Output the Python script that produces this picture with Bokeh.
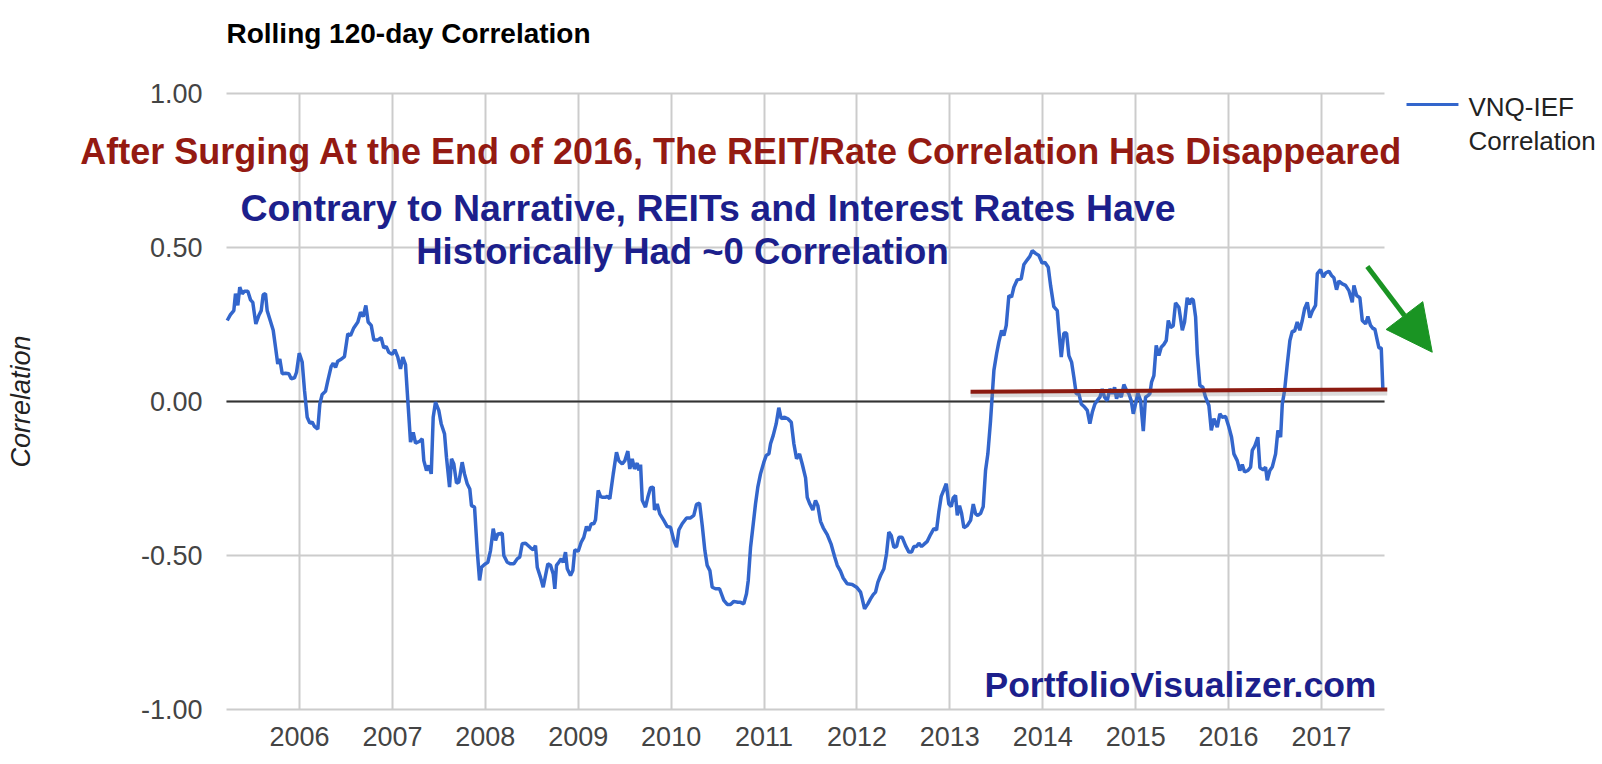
from bokeh.plotting import figure
from bokeh.models import Range1d, FixedTicker, NumeralTickFormatter, Label, Arrow, NormalHead, Grid
from bokeh.embed import file_html
from bokeh.resources import INLINE

FONT = "Liberation Sans"

# Rolling 120-day correlation VNQ vs IEF (decimal years)
dates = [
    2005.222, 2005.257, 2005.293, 2005.311, 2005.336, 2005.357, 2005.383, 2005.408, 2005.444, 2005.473,
    2005.497, 2005.530, 2005.562, 2005.588, 2005.609, 2005.634, 2005.652, 2005.680, 2005.717, 2005.742,
    2005.766, 2005.788, 2005.814, 2005.849, 2005.885, 2005.911, 2005.946, 2005.968, 2005.997, 2006.029,
    2006.054, 2006.083, 2006.111, 2006.137, 2006.161, 2006.197, 2006.219, 2006.244, 2006.280, 2006.305,
    2006.341, 2006.363, 2006.388, 2006.412, 2006.452, 2006.484, 2006.520, 2006.549, 2006.584, 2006.628,
    2006.657, 2006.686, 2006.714, 2006.739, 2006.772, 2006.800, 2006.843, 2006.879, 2006.907, 2006.933,
    2006.961, 2006.998, 2007.026, 2007.058, 2007.087, 2007.112, 2007.141, 2007.166, 2007.195, 2007.224,
    2007.249, 2007.295, 2007.321, 2007.338, 2007.367, 2007.392, 2007.418, 2007.439, 2007.464, 2007.499,
    2007.525, 2007.561, 2007.582, 2007.615, 2007.636, 2007.661, 2007.690, 2007.715, 2007.751, 2007.776,
    2007.805, 2007.833, 2007.851, 2007.884, 2007.913, 2007.938, 2007.959, 2007.991, 2008.027, 2008.056,
    2008.085, 2008.110, 2008.135, 2008.182, 2008.199, 2008.236, 2008.271, 2008.307, 2008.343, 2008.371,
    2008.397, 2008.433, 2008.487, 2008.516, 2008.540, 2008.559, 2008.594, 2008.623, 2008.648, 2008.673,
    2008.702, 2008.731, 2008.748, 2008.766, 2008.791, 2008.817, 2008.838, 2008.863, 2008.882, 2008.917,
    2008.942, 2008.963, 2009.000, 2009.032, 2009.060, 2009.089, 2009.114, 2009.140, 2009.168, 2009.186,
    2009.215, 2009.240, 2009.258, 2009.294, 2009.312, 2009.340, 2009.377, 2009.412, 2009.437, 2009.474,
    2009.502, 2009.534, 2009.555, 2009.581, 2009.606, 2009.635, 2009.652, 2009.671, 2009.689, 2009.724,
    2009.749, 2009.778, 2009.807, 2009.821, 2009.850, 2009.878, 2009.921, 2009.958, 2009.993, 2010.029,
    2010.058, 2010.083, 2010.119, 2010.166, 2010.209, 2010.244, 2010.273, 2010.306, 2010.335, 2010.363,
    2010.388, 2010.417, 2010.442, 2010.478, 2010.521, 2010.567, 2010.604, 2010.639, 2010.675, 2010.718,
    2010.747, 2010.782, 2010.811, 2010.830, 2010.855, 2010.884, 2010.908, 2010.933, 2010.962, 2010.998,
    2011.024, 2011.052, 2011.070, 2011.099, 2011.131, 2011.159, 2011.185, 2011.221, 2011.256, 2011.293,
    2011.321, 2011.350, 2011.382, 2011.411, 2011.447, 2011.465, 2011.493, 2011.525, 2011.554, 2011.579,
    2011.608, 2011.637, 2011.680, 2011.723, 2011.759, 2011.788, 2011.823, 2011.852, 2011.895, 2011.949,
    2011.996, 2012.039, 2012.057, 2012.082, 2012.117, 2012.146, 2012.175, 2012.200, 2012.225, 2012.254,
    2012.290, 2012.318, 2012.343, 2012.369, 2012.397, 2012.426, 2012.451, 2012.487, 2012.523, 2012.559,
    2012.588, 2012.612, 2012.641, 2012.666, 2012.695, 2012.720, 2012.757, 2012.792, 2012.828, 2012.857,
    2012.881, 2012.907, 2012.935, 2012.961, 2012.989, 2013.015, 2013.036, 2013.061, 2013.080, 2013.104,
    2013.126, 2013.151, 2013.187, 2013.223, 2013.252, 2013.277, 2013.301, 2013.331, 2013.359, 2013.384,
    2013.409, 2013.438, 2013.474, 2013.503, 2013.527, 2013.557, 2013.581, 2013.607, 2013.635, 2013.664,
    2013.689, 2013.725, 2013.768, 2013.797, 2013.833, 2013.861, 2013.887, 2013.922, 2013.958, 2013.994,
    2014.022, 2014.059, 2014.084, 2014.119, 2014.156, 2014.173, 2014.199, 2014.227, 2014.256, 2014.281,
    2014.310, 2014.335, 2014.360, 2014.389, 2014.414, 2014.450, 2014.479, 2014.507, 2014.533, 2014.561,
    2014.593, 2014.615, 2014.640, 2014.665, 2014.694, 2014.722, 2014.748, 2014.773, 2014.794, 2014.819,
    2014.845, 2014.873, 2014.902, 2014.927, 2014.952, 2014.974, 2014.999, 2015.024, 2015.053, 2015.082,
    2015.106, 2015.131, 2015.153, 2015.171, 2015.196, 2015.221, 2015.250, 2015.275, 2015.303, 2015.329,
    2015.351, 2015.376, 2015.404, 2015.429, 2015.465, 2015.502, 2015.526, 2015.555, 2015.580, 2015.598,
    2015.620, 2015.645, 2015.663, 2015.691, 2015.723, 2015.752, 2015.788, 2015.814, 2015.842, 2015.878,
    2015.906, 2015.932, 2015.968, 2016.003, 2016.032, 2016.057, 2016.093, 2016.121, 2016.147, 2016.172,
    2016.208, 2016.237, 2016.255, 2016.280, 2016.315, 2016.337, 2016.373, 2016.398, 2016.416, 2016.444,
    2016.470, 2016.506, 2016.531, 2016.560, 2016.578, 2016.603, 2016.632, 2016.660, 2016.686, 2016.710,
    2016.739, 2016.767, 2016.793, 2016.818, 2016.847, 2016.875, 2016.901, 2016.936, 2016.955, 2016.990,
    2017.019, 2017.044, 2017.080, 2017.108, 2017.133, 2017.162, 2017.187, 2017.224, 2017.259, 2017.295,
    2017.331, 2017.349, 2017.378, 2017.413, 2017.439, 2017.475, 2017.499, 2017.528, 2017.557, 2017.574,
    2017.601, 2017.618, 2017.643, 2017.661,
]

corr = [
    0.263, 0.282, 0.295, 0.350, 0.312, 0.371, 0.350, 0.358, 0.358, 0.330,
    0.322, 0.252, 0.279, 0.295, 0.347, 0.350, 0.295, 0.268, 0.231, 0.176,
    0.122, 0.138, 0.090, 0.092, 0.090, 0.074, 0.077, 0.095, 0.157, 0.128,
    0.036, -0.051, -0.070, -0.067, -0.081, -0.090, -0.008, 0.023, 0.033, 0.068,
    0.114, 0.124, 0.111, 0.131, 0.138, 0.146, 0.220, 0.214, 0.239, 0.258,
    0.290, 0.276, 0.312, 0.258, 0.247, 0.200, 0.200, 0.207, 0.174, 0.179,
    0.160, 0.153, 0.168, 0.144, 0.106, 0.144, 0.120, 0.003, -0.132, -0.100,
    -0.135, -0.129, -0.121, -0.192, -0.224, -0.208, -0.235, -0.051, -0.002, -0.029,
    -0.072, -0.105, -0.181, -0.278, -0.186, -0.203, -0.265, -0.262, -0.197, -0.235,
    -0.267, -0.284, -0.338, -0.343, -0.484, -0.581, -0.538, -0.529, -0.522, -0.484,
    -0.413, -0.451, -0.430, -0.428, -0.500, -0.522, -0.527, -0.527, -0.511, -0.505,
    -0.462, -0.460, -0.475, -0.482, -0.468, -0.538, -0.571, -0.603, -0.565, -0.527,
    -0.532, -0.560, -0.608, -0.532, -0.522, -0.511, -0.522, -0.489, -0.543, -0.565,
    -0.549, -0.482, -0.486, -0.457, -0.441, -0.406, -0.419, -0.397, -0.397, -0.384,
    -0.289, -0.308, -0.311, -0.311, -0.308, -0.316, -0.235, -0.165, -0.192, -0.203,
    -0.192, -0.161, -0.219, -0.186, -0.219, -0.200, -0.224, -0.205, -0.321, -0.343,
    -0.311, -0.280, -0.278, -0.352, -0.333, -0.365, -0.386, -0.406, -0.408, -0.451,
    -0.473, -0.417, -0.397, -0.378, -0.378, -0.370, -0.334, -0.330, -0.403, -0.484,
    -0.532, -0.549, -0.603, -0.608, -0.608, -0.646, -0.659, -0.659, -0.649, -0.652,
    -0.652, -0.657, -0.624, -0.581, -0.473, -0.397, -0.333, -0.278, -0.235, -0.197,
    -0.175, -0.170, -0.137, -0.110, -0.072, -0.020, -0.056, -0.051, -0.056, -0.067,
    -0.137, -0.186, -0.170, -0.203, -0.248, -0.311, -0.333, -0.352, -0.321, -0.338,
    -0.389, -0.410, -0.432, -0.464, -0.503, -0.532, -0.551, -0.573, -0.592, -0.594,
    -0.603, -0.619, -0.641, -0.673, -0.657, -0.641, -0.627, -0.619, -0.587, -0.565,
    -0.543, -0.495, -0.424, -0.435, -0.473, -0.471, -0.441, -0.441, -0.468, -0.489,
    -0.489, -0.471, -0.471, -0.460, -0.471, -0.464, -0.454, -0.432, -0.413, -0.417,
    -0.359, -0.308, -0.287, -0.267, -0.333, -0.341, -0.313, -0.305, -0.370, -0.338,
    -0.363, -0.410, -0.403, -0.386, -0.333, -0.365, -0.370, -0.363, -0.341, -0.224,
    -0.170, -0.062, 0.101, 0.155, 0.193, 0.231, 0.214, 0.247, 0.344, 0.339,
    0.371, 0.395, 0.398, 0.445, 0.460, 0.471, 0.490, 0.481, 0.474, 0.449,
    0.452, 0.436, 0.377, 0.308, 0.295, 0.231, 0.144, 0.222, 0.222, 0.149,
    0.128, 0.079, 0.025, 0.025, -0.008, -0.018, -0.029, -0.072, -0.035, -0.008,
    0.006, 0.014, 0.041, 0.014, 0.003, 0.041, 0.025, 0.046, 0.009, 0.030,
    0.014, 0.055, 0.036, 0.025, 0.003, -0.040, -0.008, 0.027, 0.003, -0.096,
    0.014, 0.019, 0.025, 0.063, 0.084, 0.182, 0.149, 0.176, 0.185, 0.198,
    0.263, 0.240, 0.246, 0.320, 0.306, 0.231, 0.258, 0.337, 0.315, 0.333,
    0.330, 0.274, 0.155, 0.052, 0.046, 0.014, -0.013, -0.094, -0.056, -0.083,
    -0.040, -0.051, -0.049, -0.083, -0.116, -0.170, -0.192, -0.224, -0.205, -0.229,
    -0.224, -0.213, -0.159, -0.146, -0.116, -0.215, -0.222, -0.213, -0.256, -0.224,
    -0.213, -0.170, -0.094, -0.116, -0.008, 0.036, 0.122, 0.198, 0.228, 0.228,
    0.258, 0.231, 0.263, 0.301, 0.322, 0.272, 0.293, 0.312, 0.415, 0.428,
    0.404, 0.417, 0.423, 0.409, 0.402, 0.363, 0.391, 0.382, 0.377, 0.360,
    0.322, 0.377, 0.344, 0.337, 0.263, 0.252, 0.276, 0.247, 0.236, 0.236,
    0.198, 0.174, 0.174, 0.036,
]

year_ticks = list(range(2006, 2018))
corr_ticks = [-1.0, -0.5, 0.0, 0.5, 1.0]

chart_title = "Rolling 120-day Correlation"
axis_title = "Correlation"
series_label = ["VNQ-IEF", "Correlation"]

# visible chart window (data units)
x_lo, x_hi = 2005.214, 2017.679
y_lo, y_hi = -1.0, 1.0

# hand-drawn annotations
trend_x = [2013.223, 2017.708]
trend_y = [0.032, 0.039]
arrow_x = [2017.493, 2018.192]
arrow_y = [0.438, 0.160]

headline = "After Surging At the End of 2016, The REIT/Rate Correlation Has Disappeared"
subline_1 = "Contrary to Narrative, REITs and Interest Rates Have"
subline_2 = "Historically Had ~0 Correlation"
source_tag = "PortfolioVisualizer.com"

RED = "#941a12"
NAVY = "#1c1f8c"
GREEN = "#1a9423"
LINE = "#3366cc"
GRID = "#cccccc"

# The frame spans the whole canvas so that the annotations that reach outside the
# chart window (title, headline, arrow, legend, axis labels) are not clipped.
p = figure(
    frame_width=1600, frame_height=762,
    x_range=Range1d(2002.7818, 2020.0030), y_range=Range1d(-1.17208, 1.30195),
    output_backend="svg", toolbar_location=None, title_location=None,
    min_border_left=0, min_border_right=0, min_border_top=0, min_border_bottom=0,
    outline_line_color=None, background_fill_color="white", border_fill_color="white",
)

for ax in (p.xaxis[0], p.yaxis[0]):
    ax.axis_line_color = None
    ax.major_tick_line_color = None
    ax.minor_tick_line_color = None
    ax.major_tick_out = 0
    ax.major_tick_in = 0
    ax.minor_tick_out = 0
    ax.major_label_text_font = FONT
    ax.major_label_text_font_size = "27px"
    ax.major_label_text_color = "#444444"

p.xaxis[0].fixed_location = y_lo
p.xaxis[0].bounds = (x_lo, x_hi)
p.xaxis[0].ticker = FixedTicker(ticks=year_ticks)
p.xaxis[0].formatter = NumeralTickFormatter(format="0")
p.xaxis[0].major_label_standoff = 18

p.yaxis[0].fixed_location = x_lo
p.yaxis[0].bounds = (y_lo, y_hi)
p.yaxis[0].ticker = FixedTicker(ticks=corr_ticks)
p.yaxis[0].formatter = NumeralTickFormatter(format="0.00")
p.yaxis[0].major_label_standoff = 24
p.yaxis[0].axis_label = axis_title
p.yaxis[0].axis_label_text_font = FONT
p.yaxis[0].axis_label_text_font_size = "27px"
p.yaxis[0].axis_label_text_font_style = "italic"
p.yaxis[0].axis_label_text_color = "#222222"
p.yaxis[0].axis_label_standoff = 102

# grid lines limited to the chart window
p.xgrid[0].ticker = FixedTicker(ticks=year_ticks)
p.ygrid[0].ticker = FixedTicker(ticks=corr_ticks)
zero_grid = Grid(dimension=1, ticker=FixedTicker(ticks=[0.0]),
                 grid_line_color="#333333", grid_line_width=2)
p.add_layout(zero_grid)
for g in (p.xgrid[0], p.ygrid[0]):
    g.grid_line_color = GRID
    g.grid_line_width = 2

bounded = True
try:
    p.xgrid[0].cross_bounds = (y_lo, y_hi)
    p.ygrid[0].cross_bounds = (x_lo, x_hi)
    zero_grid.cross_bounds = (x_lo, x_hi)
except Exception:
    bounded = False

if not bounded:
    p.xgrid[0].visible = False
    p.ygrid[0].visible = False
    zero_grid.visible = False
    p.segment(x0=year_ticks, x1=year_ticks, y0=[y_lo] * len(year_ticks), y1=[y_hi] * len(year_ticks),
              line_color=GRID, line_width=2)
    p.segment(x0=[x_lo] * len(corr_ticks), x1=[x_hi] * len(corr_ticks), y0=corr_ticks, y1=corr_ticks,
              line_color=GRID, line_width=2)
    p.segment(x0=[x_lo], x1=[x_hi], y0=[0.0], y1=[0.0], line_color="#333333", line_width=2)

# title (inside the canvas frame, aligned with the chart window)
p.add_layout(Label(x=x_lo, y=1.1948, text=chart_title, text_font=FONT, text_font_size="28px",
                   text_font_style="bold", text_color="#000000", text_align="left",
                   text_baseline="middle"))

# data series
p.line(dates, corr, line_color=LINE, line_width=3.5)

# red "flat" line with soft shadow
p.line(trend_x, [v - 0.011 for v in trend_y], line_color="#888888", line_alpha=0.3, line_width=5)
p.line(trend_x, trend_y, line_color="#8b1a10", line_width=4)

# green arrow
p.add_layout(Arrow(
    end=NormalHead(size=46, fill_color=GREEN, line_color=GREEN),
    x_start=arrow_x[0], y_start=arrow_y[0], x_end=arrow_x[1], y_end=arrow_y[1],
    line_color=GREEN, line_width=5,
))

def callout(text, x, y, color, size):
    p.add_layout(Label(x=x, y=y, text=text, text_font=FONT, text_font_size=size,
                       text_font_style="bold", text_color=color,
                       text_align="center", text_baseline="middle"))

callout(headline, 2010.757, 0.812, RED, "36px")
callout(subline_1, 2010.397, 0.628, NAVY, "37.5px")
callout(subline_2, 2010.122, 0.487, NAVY, "36.5px")
callout(source_tag, 2015.482, -0.920, NAVY, "35.5px")

# legend (right of the chart window)
p.add_layout(Arrow(end=None, x_start=2017.915, y_start=0.9643, x_end=2018.474, y_end=0.9643,
                   line_color=LINE, line_width=3))
p.add_layout(Label(x=2018.582, y=0.9555, text=series_label[0], text_font=FONT, text_font_size="26px",
                   text_color="#222222", text_align="left", text_baseline="middle"))
p.add_layout(Label(x=2018.582, y=0.8474, text=series_label[1], text_font=FONT, text_font_size="26px",
                   text_color="#222222", text_align="left", text_baseline="middle"))

open("out.html", "w").write(file_html(p, INLINE))
